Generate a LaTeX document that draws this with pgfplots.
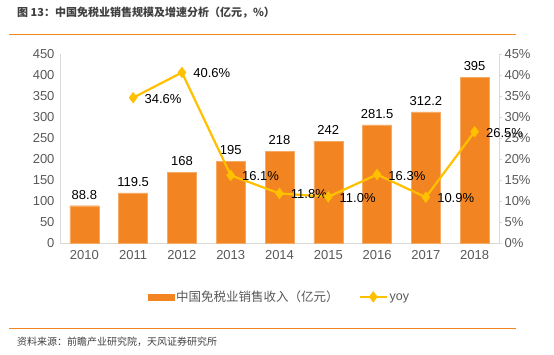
\documentclass[border=0pt]{standalone}
\usepackage{fontspec}
\setmainfont{Liberation Sans}
\newfontfamily\cjk{Noto Sans CJK SC}
\usepackage{pgfplots}
\pgfplotsset{compat=1.18}
\definecolor{barc}{RGB}{242,133,34}
\definecolor{linec}{RGB}{255,192,0}
\definecolor{tickc}{RGB}{89,89,89}
\definecolor{axc}{RGB}{217,217,217}
\definecolor{titlec}{RGB}{64,64,64}
\pgfplotsset{/pgf/number format/assume math mode=true}
\newcommand\lstrut{\rule[-3pt]{0pt}{12pt}}
\begin{document}
\begin{tikzpicture}
\path[use as bounding box] (0pt,0pt) rectangle (554pt,-354pt);
\node[anchor=west, inner sep=0, font=\cjk\bfseries\fontsize{11}{13}\selectfont, text=titlec] at (17pt,-13pt) {图 13：中国免税业销售规模及增速分析（亿元，\%）};
\draw[barc, line width=1pt] (9pt,-34pt) -- (516pt,-34pt);
\begin{axis}[at={(60pt,-243pt)}, anchor=south west, scale only axis,
  width=439pt, height=189pt,
  xmin=-0.5, xmax=8.5, ymin=0, ymax=450,
  ytick={0,50,...,450}, xtick={0,...,8},
  xticklabels={2010,2011,2012,2013,2014,2015,2016,2017,2018},
  axis x line*=bottom, axis y line*=left,
  axis line style={axc, line width=0.8pt},
  major tick length=0pt,
  tick label style={font=\fontsize{13}{15}\selectfont, text=tickc},
  xticklabel style={yshift=-4pt},
  yticklabel style={xshift=-2pt},
  ybar, bar width=29pt,
  nodes near coords={\pgfmathprintnumber{\pgfplotspointmeta}},
  every node near coord/.append style={font=\fontsize{13}{15}\selectfont, text=black, yshift=3pt},
]
\addplot[fill=barc, draw=barc!70!white] coordinates {(0,88.8) (1,119.5) (2,168) (3,195) (4,218) (5,242) (6,281.5) (7,312.2) (8,395)};
\end{axis}
\begin{axis}[at={(60pt,-243pt)}, anchor=south west, scale only axis,
  width=439pt, height=189pt,
  xmin=-0.5, xmax=8.5, ymin=0, ymax=45,
  ytick={0,5,...,45},
  axis x line=none, axis y line*=right,
  axis line style={axc, line width=0.8pt},
  major tick length=3pt, tick style={axc, line width=0.8pt},
  y tick style={/pgfplots/tick align=outside},
  yticklabel={\pgfmathprintnumber{\tick}\%},
  tick label style={font=\fontsize{13}{15}\selectfont, text=tickc},
  yticklabel style={xshift=2pt},
  legend style={at={(0.5,-0.285)}, anchor=center, draw=none, fill=none,
    legend columns=2, font=\fontsize{12.5}{15}\selectfont, text=tickc,
    /tikz/every even column/.append style={column sep=18pt}},
  nodes near coords={\pgfmathprintnumber[fixed,fixed zerofill,precision=1]{\pgfplotspointmeta}\%},
  nodes near coords align={anchor=west},
  every node near coord/.append style={font=\fontsize{13}{15}\selectfont, text=black, xshift=7pt, yshift=-1pt},
]
\addlegendimage{legend image code/.code={\fill[barc] (0pt,-3pt) rectangle (26pt,3pt);}}
\addlegendentry{\lstrut\cjk 中国免税业销售收入（亿元）}
\addplot[color=linec, line width=2.2pt, mark=diamond*, mark size=4pt, mark options={fill=linec, draw=linec},
  legend image code/.code={\draw[linec, line width=2pt] (0pt,0pt) -- (27pt,0pt); \fill[linec] (13.5pt,4pt) -- (16.5pt,0pt) -- (13.5pt,-4pt) -- (10.5pt,0pt) -- cycle;}] coordinates {(1,34.6) (2,40.6) (3,16.1) (4,11.8) (5,11.0) (6,16.3) (7,10.9) (8,26.5)};
\addlegendentry{\lstrut yoy}
\end{axis}
\draw[barc, line width=1pt] (9pt,-328pt) -- (516pt,-328pt);
\node[anchor=west, inner sep=0, font=\cjk\fontsize{10}{12}\selectfont, text=titlec] at (17pt,-342pt) {资料来源：前瞻产业研究院，天风证券研究所};
\end{tikzpicture}
\end{document}
